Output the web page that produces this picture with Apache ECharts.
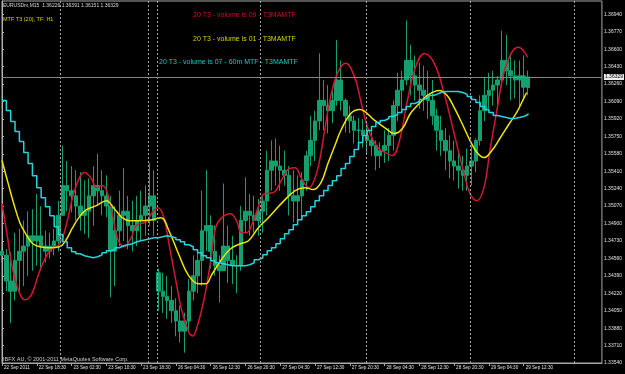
<!DOCTYPE html>
<html>
<head>
<meta charset="utf-8">
<style>
  html, body { margin: 0; padding: 0; background: #000; }
  #chart { width: 625px; height: 374px; }
</style>
<script src="https://cdn.jsdelivr.net/npm/echarts@6/dist/echarts.min.js"></script>
</head>
<body>
<div id="chart"></div>
<script>
// EURUSDm M15 chart, bars grouped by hour (x = hours since first bar)
var xTickPos = [0, 8, 16, 24, 32, 40, 48, 56, 64, 72, 80, 88, 96, 104, 112, 120];
var xLabels = ['22 Sep 2011', '22 Sep 18:30', '23 Sep 02:30', '23 Sep 10:30', '23 Sep 18:30',
    '26 Sep 04:30', '26 Sep 12:30', '26 Sep 20:30', '27 Sep 04:30', '27 Sep 12:30', '27 Sep 20:30',
    '28 Sep 04:30', '28 Sep 12:30', '28 Sep 20:30', '29 Sep 04:30', '29 Sep 12:30'];
var priceTicks = [1.3354, 1.3371, 1.3388, 1.3405, 1.3422, 1.3439, 1.3456, 1.3473, 1.3490, 1.3507,
    1.3524, 1.3541, 1.3558, 1.3575, 1.3592, 1.3609, 1.3626, 1.3643, 1.3660, 1.3677, 1.3694];
var bidPrice = 1.36329;
var daySeparators = [13.3, 33.6, 35.6, 59.5, 83.8, 107.7, 131.7];

var barOpen = [
    1.3463, 1.3459, 1.3434, 1.3424, 1.3454, 1.3463, 1.3468, 1.3478, 1.3473, 1.3478,
    1.3468, 1.3463, 1.3468, 1.3473, 1.3498, 1.3527, 1.3522, 1.3517, 1.3507, 1.3498,
    1.3502, 1.3517, 1.3527, 1.3522, 1.3517, 1.3507, 1.3463, 1.3483, 1.3498, 1.3502,
    1.3488, 1.3483, 1.3493, 1.3498, 1.3507, 1.3517, 1.3442, 1.3424, 1.3419, 1.3415,
    1.3405, 1.3395, 1.3385, 1.3395, 1.3424, 1.3439, 1.3454, 1.3483, 1.3488, 1.3463,
    1.3449, 1.3444, 1.3468, 1.3454, 1.3449, 1.3449, 1.3493, 1.3502, 1.3498, 1.3493,
    1.3502, 1.3512, 1.3542, 1.3551, 1.3546, 1.3542, 1.3537, 1.3517, 1.3512, 1.3517,
    1.3532, 1.3556, 1.3571, 1.3590, 1.3610, 1.3605, 1.3600, 1.3610, 1.3630, 1.3610,
    1.3595, 1.3590, 1.3581, 1.3581, 1.3576, 1.3571, 1.3566, 1.3556, 1.3561, 1.3566,
    1.3576, 1.3605, 1.3620, 1.3630, 1.3649, 1.3634, 1.3625, 1.3620, 1.3615, 1.3610,
    1.3595, 1.3581, 1.3571, 1.3561, 1.3551, 1.3546, 1.3542, 1.3537, 1.3546, 1.3551,
    1.3571, 1.3600, 1.3615, 1.3620, 1.3625, 1.3630, 1.3649, 1.3639, 1.3634, 1.3630,
    1.3634, 1.36226];
var barHigh = [
    1.3473, 1.3465, 1.3462, 1.3481, 1.3485, 1.3493, 1.3502, 1.3504, 1.3519, 1.3507,
    1.3483, 1.3481, 1.3485, 1.3512, 1.3566, 1.3551, 1.3546, 1.3542, 1.3540, 1.3532,
    1.3534, 1.3546, 1.3558, 1.3542, 1.3537, 1.3517, 1.3507, 1.3522, 1.3544, 1.3517,
    1.3512, 1.3517, 1.3522, 1.3527, 1.3549, 1.3542, 1.3446, 1.3442, 1.3439, 1.3429,
    1.3417, 1.3410, 1.3403, 1.3436, 1.3459, 1.3463, 1.3522, 1.3542, 1.3498, 1.3488,
    1.3459, 1.3529, 1.3488, 1.3478, 1.3459, 1.3507, 1.3535, 1.3519, 1.3517, 1.3514,
    1.3517, 1.3561, 1.3571, 1.3573, 1.3566, 1.3561, 1.3546, 1.3542, 1.3537, 1.3540,
    1.3561, 1.3595, 1.3600, 1.3656, 1.3630, 1.3625, 1.3623, 1.3669, 1.3649, 1.3612,
    1.3605, 1.3595, 1.3593, 1.3592, 1.3586, 1.3583, 1.3571, 1.3569, 1.3581, 1.3583,
    1.3610, 1.3637, 1.3639, 1.3688, 1.3664, 1.3654, 1.3647, 1.3644, 1.3639, 1.3630,
    1.3602, 1.3595, 1.3583, 1.3576, 1.3571, 1.3561, 1.3556, 1.3563, 1.3566, 1.3573,
    1.3615, 1.3632, 1.3637, 1.3639, 1.3634, 1.3678, 1.3674, 1.3656, 1.3649, 1.3649,
    1.3654, 1.36391];
var barLow = [
    1.3452, 1.3424, 1.3393, 1.3415, 1.3424, 1.3429, 1.3439, 1.3444, 1.3449, 1.3444,
    1.3452, 1.3456, 1.3459, 1.3463, 1.3498, 1.3502, 1.3501, 1.3493, 1.3483, 1.3480,
    1.3476, 1.3488, 1.3507, 1.3498, 1.3496, 1.3418, 1.3429, 1.3468, 1.3473, 1.3465,
    1.3463, 1.3468, 1.3473, 1.3478, 1.3488, 1.3478, 1.3405, 1.3403, 1.3397, 1.3393,
    1.3380, 1.3374, 1.3364, 1.3385, 1.3415, 1.3422, 1.3429, 1.3463, 1.3446, 1.3439,
    1.3413, 1.3444, 1.3432, 1.3431, 1.3422, 1.3444, 1.3481, 1.3478, 1.3481, 1.3478,
    1.3481, 1.3498, 1.3522, 1.3527, 1.3522, 1.3527, 1.3498, 1.3491, 1.3491, 1.3493,
    1.3522, 1.3546, 1.3551, 1.3581, 1.3581, 1.3578, 1.3588, 1.3605, 1.3600, 1.3579,
    1.3578, 1.3568, 1.3566, 1.3564, 1.3558, 1.3556, 1.3542, 1.3544, 1.3549, 1.3551,
    1.3561, 1.3590, 1.3598, 1.3625, 1.3615, 1.3610, 1.3602, 1.3600, 1.3592, 1.3586,
    1.3561, 1.3556, 1.3542, 1.3534, 1.3532, 1.3524, 1.3522, 1.3522, 1.3527, 1.3540,
    1.3566, 1.3590, 1.3602, 1.3605, 1.3603, 1.3623, 1.3625, 1.3610, 1.3612, 1.3603,
    1.3610, 1.36151];
var barClose = [
    1.3459, 1.3434, 1.3424, 1.3454, 1.3463, 1.3468, 1.3478, 1.3473, 1.3478, 1.3468,
    1.3463, 1.3468, 1.3473, 1.3498, 1.3527, 1.3522, 1.3517, 1.3507, 1.3498, 1.3502,
    1.3517, 1.3527, 1.3522, 1.3517, 1.3507, 1.3463, 1.3483, 1.3498, 1.3502, 1.3488,
    1.3483, 1.3493, 1.3498, 1.3507, 1.3517, 1.3493, 1.3424, 1.3419, 1.3415, 1.3405,
    1.3395, 1.3385, 1.3395, 1.3424, 1.3439, 1.3454, 1.3483, 1.3488, 1.3463, 1.3449,
    1.3444, 1.3468, 1.3454, 1.3449, 1.3449, 1.3493, 1.3502, 1.3498, 1.3493, 1.3502,
    1.3512, 1.3542, 1.3551, 1.3546, 1.3542, 1.3537, 1.3517, 1.3512, 1.3517, 1.3532,
    1.3556, 1.3571, 1.3590, 1.3610, 1.3605, 1.3600, 1.3610, 1.3630, 1.3610, 1.3595,
    1.3590, 1.3581, 1.3581, 1.3576, 1.3571, 1.3566, 1.3556, 1.3561, 1.3566, 1.3576,
    1.3605, 1.3620, 1.3630, 1.3649, 1.3634, 1.3625, 1.3620, 1.3615, 1.3610, 1.3595,
    1.3581, 1.3571, 1.3561, 1.3551, 1.3546, 1.3542, 1.3537, 1.3546, 1.3551, 1.3571,
    1.3600, 1.3615, 1.3620, 1.3625, 1.3630, 1.3649, 1.3639, 1.3634, 1.3630, 1.3634,
    1.3623, 1.36329];

// T3 volume 0.9 (red)
var redX = [0, 1.14, 2.51, 4.11, 5.26, 6.86, 8.69, 10.97, 13.26, 14.86,
    16.23, 17.83, 18.97, 20.57, 21.71, 23.09, 24.23, 25.37, 26.51, 28.11,
    29.71, 30.86, 33.14, 34.51, 35.89, 37.26, 38.4, 40, 41.37, 42.97,
    43.89, 44.8, 46.4, 48, 49.14, 50.51, 52.57, 53.94, 55.09, 56.23,
    57.83, 59.43, 60.34, 62.4, 64.23, 66.06, 67.43, 68.8, 70.63, 71.77,
    72.91, 74.29, 75.66, 77.26, 79.09, 81.14, 82.51, 84.11, 86.4, 88.69,
    89.83, 91.43, 93.26, 95.09, 97.14, 99.43, 101.71, 104, 106.29, 107.66,
    109.26, 110.86, 112.23, 113.83, 115.43, 117.26, 118.86, 120.23, 120.91];
var redY = [1.35094, 1.34801, 1.34439, 1.34214, 1.34156, 1.34214, 1.34439, 1.34635, 1.34703, 1.34898,
    1.35152, 1.35348, 1.35397, 1.35338, 1.35250, 1.35270, 1.35201, 1.34996, 1.34762, 1.34674,
    1.34762, 1.34879, 1.34918, 1.35006, 1.35055, 1.34957, 1.34703, 1.34341, 1.34048, 1.33843,
    1.33804, 1.33882, 1.34146, 1.34537, 1.34859, 1.34957, 1.34996, 1.34928, 1.34810, 1.34810,
    1.34928, 1.35123, 1.35191, 1.35201, 1.35318, 1.35436, 1.35445, 1.35348, 1.35250, 1.35318,
    1.35485, 1.35826, 1.36149, 1.36374, 1.36462, 1.36325, 1.36100, 1.35836, 1.35641, 1.35582,
    1.35563, 1.35709, 1.36100, 1.36422, 1.36559, 1.36462, 1.36168, 1.35778, 1.35387, 1.35191,
    1.35123, 1.35250, 1.35612, 1.36002, 1.36364, 1.36569, 1.36618, 1.36569, 1.36520];

// T3 volume 0.1 (yellow)
var yellowX = [0, 1.37, 2.51, 4.11, 5.71, 7.09, 8.69, 10.97, 13.26, 14.63,
    16.23, 17.83, 19.43, 21.71, 24, 25.83, 27.66, 29.26, 31.54, 34.51,
    36.57, 38.4, 40.69, 42.97, 45.26, 46.86, 48.23, 50.29, 52.57, 54.86,
    56.69, 58.97, 61.26, 64.23, 67.43, 69.71, 71.54, 73.37, 74.97, 76.57,
    77.94, 80.23, 82.29, 85.71, 88, 90.29, 92.11, 93.94, 96, 97.83,
    100.57, 102.4, 104, 105.83, 107.66, 109.26, 110.86, 112.69, 114.51, 116.57,
    118.4, 119.77, 120.69];
var yellowY = [1.35514, 1.35299, 1.35123, 1.34908, 1.34781, 1.34703, 1.34674, 1.34664, 1.34674, 1.34732,
    1.34859, 1.34967, 1.35035, 1.35074, 1.35123, 1.35045, 1.34957, 1.34928, 1.34928, 1.34937,
    1.34957, 1.34830, 1.34595, 1.34390, 1.34312, 1.34312, 1.34400, 1.34537, 1.34654, 1.34703,
    1.34732, 1.34859, 1.34957, 1.35094, 1.35221, 1.35250, 1.35231, 1.35299, 1.35485, 1.35660,
    1.35807, 1.35973, 1.36012, 1.35905, 1.35836, 1.35778, 1.35826, 1.35973, 1.36071, 1.36149,
    1.36198, 1.36149, 1.36032, 1.35875, 1.35709, 1.35592, 1.35543, 1.35612, 1.35729, 1.35866,
    1.35983, 1.36100, 1.36178];

// 60m MTF T3 (cyan), one value per hour
var cyanH1 = [
    1.36100, 1.36002, 1.35895, 1.35797, 1.35699, 1.35592, 1.35485, 1.35367, 1.35250, 1.35152,
    1.35064, 1.34976, 1.34869, 1.34791, 1.34722, 1.34664, 1.34625, 1.34605, 1.34586, 1.34576,
    1.34566, 1.34576, 1.34595, 1.34615, 1.34635, 1.34644, 1.34664, 1.34683, 1.34693, 1.34703,
    1.34722, 1.34732, 1.34742, 1.34752, 1.34762, 1.34762, 1.34771, 1.34781, 1.34771, 1.34762,
    1.34742, 1.34722, 1.34693, 1.34674, 1.34644, 1.34615, 1.34586, 1.34566, 1.34537, 1.34517,
    1.34508, 1.34498, 1.34488, 1.34488, 1.34488, 1.34488, 1.34498, 1.34517, 1.34547, 1.34566,
    1.34595, 1.34635, 1.34664, 1.34703, 1.34752, 1.34801, 1.34840, 1.34889, 1.34937, 1.34976,
    1.35016, 1.35064, 1.35123, 1.35172, 1.35221, 1.35270, 1.35318, 1.35367, 1.35436, 1.35485,
    1.35553, 1.35621, 1.35690, 1.35758, 1.35807, 1.35846, 1.35885, 1.35905, 1.35924, 1.35944,
    1.35963, 1.35983, 1.36012, 1.36041, 1.36071, 1.36090, 1.36110, 1.36129, 1.36149, 1.36159,
    1.36178, 1.36188, 1.36188, 1.36188, 1.36188, 1.36178, 1.36159, 1.36139, 1.36110, 1.36081,
    1.36041, 1.36012, 1.35983, 1.35953, 1.35944, 1.35934, 1.35924, 1.35924, 1.35934, 1.35944,
    1.35963, 1.35973];

(function() {
    var green = '#13a06e';
    var red = '#d3172f';
    var yellow = '#eee600';
    var cyan = '#22d6dc';
    var font = '"Liberation Sans", Arial, sans-serif';

    var bars = barOpen.map(function(o, i) { return [i, o, barClose[i], barLow[i], barHigh[i]]; });
    var redData = redX.map(function(x, i) { return [x, redY[i]]; });
    var yellowData = yellowX.map(function(x, i) { return [x, yellowY[i]]; });
    var cyanData = cyanH1.map(function(v, i) { return [i, v]; });

    var sepLines = daySeparators.map(function(v) {
        return { xAxis: v, lineStyle: { color: '#a4a4a4', type: [2, 2], width: 1 }, label: { show: false } };
    });
    var bidLine = [{
        yAxis: bidPrice,
        lineStyle: { color: '#858585', type: 'solid', width: 1 },
        label: {
            show: true, position: 'end', formatter: bidPrice.toFixed(5), distance: 2,
            color: '#000', backgroundColor: '#ececec', fontSize: 5, fontFamily: font, padding: [1, 1, 0, 1]
        }
    }];

    var chart = echarts.init(document.getElementById('chart'));
    chart.setOption({
        backgroundColor: '#000',
        animation: false,
        grid: { left: 2, right: 21, top: 1, bottom: 11, show: true, borderColor: '#a8a8a8', borderWidth: 1 },
        xAxis: {
            type: 'value', min: 0, max: 138,
            axisLine: { show: true, lineStyle: { color: '#a8a8a8' } },
            axisTick: { show: true, length: 3, customValues: xTickPos, lineStyle: { color: '#a8a8a8' } },
            axisLabel: {
                customValues: xTickPos, color: '#e0e0e0', fontSize: 4.6, fontFamily: font,
                align: 'left', margin: 2, padding: [0, 0, 0, 2],
                formatter: function(v) { return xLabels[Math.round(v / 8)] || ''; }
            },
            splitLine: { show: false }
        },
        yAxis: {
            type: 'value', position: 'right', min: 1.3354, max: 1.3707, scale: true,
            axisLine: { show: true, lineStyle: { color: '#b4b4b4' } },
            axisTick: { show: true, length: 2, customValues: priceTicks, lineStyle: { color: '#b4b4b4' } },
            axisLabel: {
                customValues: priceTicks, color: '#e0e0e0', fontSize: 5, fontFamily: font, margin: 2,
                formatter: function(v) { return v.toFixed(5); }
            },
            splitLine: { show: false }
        },
        series: [
            {
                type: 'candlestick', data: bars, encode: { x: 0, y: [1, 2, 3, 4] },
                barWidth: 4, clip: true,
                itemStyle: { color: green, color0: green, borderColor: green, borderColor0: green, borderWidth: 1 },
                markLine: { silent: true, symbol: ['none', 'none'], animation: false, precision: 5, data: sepLines }
            },
            {
                type: 'line', data: redData, smooth: 0.4, showSymbol: false, clip: true,
                lineStyle: { color: red, width: 1.5 },
                markLine: { silent: true, symbol: ['none', 'none'], animation: false, precision: 5, data: bidLine }
            },
            {
                type: 'line', data: yellowData, smooth: 0.4, showSymbol: false, clip: true,
                lineStyle: { color: yellow, width: 1.5 }
            },
            {
                type: 'line', data: cyanData, step: 'end', showSymbol: false, clip: true,
                lineStyle: { color: cyan, width: 1.5 }
            }
        ],
        graphic: [
            { type: 'text', x: 3, y: 6, style: { text: 'EURUSDm,M15  1.36226 1.36391 1.36151 1.36329', fill: '#d8d8d8', fontSize: 5, fontFamily: font, verticalAlign: 'middle' } },
            { type: 'text', x: 3, y: 19, style: { text: 'MTF T3 (20), TF: H1', fill: '#d8d400', fontSize: 5.5, fontFamily: font, verticalAlign: 'middle' } },
            { type: 'text', x: 193, y: 15, style: { text: '20 T3 - volume is 09 - T3MAMTF', fill: '#d0102a', fontSize: 7, fontFamily: font, verticalAlign: 'middle' } },
            { type: 'text', x: 193, y: 39, style: { text: '20 T3 - volume is 01 - T3MAMTF', fill: '#d6d200', fontSize: 7, fontFamily: font, verticalAlign: 'middle' } },
            { type: 'text', x: 159, y: 62, style: { text: '20 T3 - volume is 07 - 60m MTF - T3MAMTF', fill: '#1ec6c6', fontSize: 7, fontFamily: font, verticalAlign: 'middle' } },
            { type: 'text', x: 3, y: 359, style: { text: 'IBFX AU, \u00a9 2001-2011 MetaQuotes Software Corp.', fill: '#d0d0d0', fontSize: 5.5, fontFamily: font, verticalAlign: 'middle' } }
        ]
    });
    window.addEventListener('resize', function() { chart.resize(); });
})();
</script>
</body>
</html>
